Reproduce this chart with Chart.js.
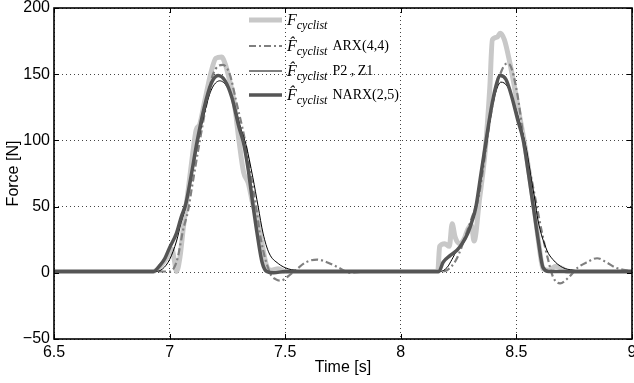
<!DOCTYPE html>
<html>
<head>
<meta charset="utf-8">
<script src="https://cdn.jsdelivr.net/npm/chart.js@4"></script>
<style>
  body { margin: 0; background: #fff; }
</style>
</head>
<body>
<canvas id="forceChart" width="634" height="383"></canvas>
<script>
// axis ticks
const xTicks = [6.5, 7, 7.5, 8, 8.5, 9];
const xTickLabels = ['6.5', '7', '7.5', '8', '8.5', '9'];
const yTicks = [-50, 0, 50, 100, 150, 200];
const yTickLabels = ['\u221250', '0', '50', '100', '150', '200'];

// measured cyclist force
const tMeasured = [6.5, 6.93, 6.96, 6.99, 7.01, 7.02, 7.03, 7.045, 7.06, 7.08, 7.10, 7.115, 7.13, 7.15, 7.18, 7.20, 7.225, 7.24, 7.26, 7.28,
  7.30, 7.32, 7.34, 7.36, 7.38, 7.40, 7.42, 7.44, 7.47, 7.5, 8.16, 8.168, 8.19, 8.21, 8.222, 8.235, 8.257, 8.275, 8.29, 8.305,
  8.317, 8.34, 8.365, 8.385, 8.396, 8.417, 8.43, 8.448, 8.47, 8.49, 8.51, 8.535, 8.56, 8.58, 8.60, 8.615, 8.64, 8.67, 8.70, 8.72, 9.0];
const fMeasured = [1, 1, 5, 12, 18, 10, 1, 12, 35, 62, 90, 108, 112, 128, 152, 162, 163, 158, 145, 128,
  100, 76, 68, 52, 40, 22, 5, 2, 3, 1, 1, 20, 22, 20, 37, 27, 22, 26, 33, 36,
  24, 55, 92, 140, 176, 178, 181, 176, 160, 142, 122, 98, 70, 45, 18, 3, 2, 5, 3, 1, 1];

// ARX(4,4) estimate
const tArx = [6.5, 7.0, 7.02, 7.036, 7.045, 7.058, 7.08, 7.097, 7.131, 7.16, 7.188, 7.231, 7.26, 7.29, 7.326, 7.35, 7.374, 7.395, 7.434, 7.46,
  7.48, 7.51, 7.545, 7.59, 7.638, 7.68, 7.73, 7.78, 7.85, 8.17, 8.20, 8.22, 8.24, 8.26, 8.278, 8.308, 8.334, 8.353, 8.373, 8.40,
  8.43, 8.459, 8.472, 8.503, 8.537, 8.572, 8.611, 8.637, 8.658, 8.689, 8.723, 8.766, 8.805, 8.849, 8.889, 8.928, 9.0];
const fArx = [1, 1, 4, 12, 20, 32, 47, 65, 100, 128, 150, 157, 150, 128, 100, 75, 50, 25, 0, -5,
  -6, -3, 2, 8, 10, 8, 4, 0, 1, 1, 2, 5, 10, 18, 27, 42, 55, 75, 100, 130,
  150, 158, 157, 136, 95, 65, 30, 10, -3, -8, -4, 4, 8, 11, 8, 4, 1];

// P2, Z1 estimate
const tP2Z1 = [6.5, 6.94, 6.97, 7.0, 7.03, 7.05, 7.07, 7.09, 7.12, 7.15, 7.18, 7.217, 7.25, 7.28, 7.31, 7.33, 7.36, 7.383, 7.404, 7.43,
  7.47, 7.513, 7.57, 7.65, 8.17, 8.2, 8.221, 8.243, 8.265, 8.29, 8.31, 8.325, 8.347, 8.369, 8.39, 8.41, 8.433, 8.46, 8.49, 8.52,
  8.545, 8.565, 8.58, 8.593, 8.632, 8.658, 8.70, 8.745, 8.8, 9.0];
const fP2Z1 = [1, 1, 3, 10, 24, 38, 50, 68, 96, 120, 138, 145, 140, 127, 108, 97, 72, 50, 30, 15,
  7, 3, 1.5, 1, 1, 4, 10, 17, 21, 29, 39, 48, 72, 96, 120, 136, 144, 141, 128, 110,
  92, 70, 55, 40, 17, 10, 4, 2, 1, 1];

// NARX(2,5) estimate
const tNarx = [6.5, 6.93, 6.96, 6.98, 7.0, 7.03, 7.05, 7.07, 7.09, 7.12, 7.15, 7.18, 7.21, 7.24, 7.27, 7.30, 7.32, 7.34, 7.36, 7.38,
  7.40, 7.42, 7.45, 7.5, 8.165, 8.183, 8.213, 8.243, 8.265, 8.29, 8.31, 8.325, 8.347, 8.369, 8.39, 8.41, 8.43, 8.455, 8.48, 8.505,
  8.53, 8.552, 8.573, 8.594, 8.615, 8.64, 9.0];
const fNarx = [1, 1, 6, 11, 19, 30, 42, 52, 70, 100, 125, 143, 149, 145, 132, 110, 98, 78, 52, 28,
  8, 1, 0, 1, 1, 8, 13, 17, 22, 30, 40, 50, 75, 100, 123, 140, 149, 146, 133, 116,
  100, 75, 50, 25, 4, 1, 1];

const legendSuffix = ['', 'ARX(4,4)', 'P2 , Z1', 'NARX(2,5)'];

function toPoints(ts, fs) {
  return ts.map((t, i) => ({ x: t, y: fs[i] }));
}

Chart.defaults.font.family = '"Liberation Sans", Arial, sans-serif';
Chart.defaults.color = '#000';

// axes box with inward ticks, like matlab
const boxPlugin = {
  id: 'box',
  afterDraw(chart) {
    const c = chart.ctx;
    const a = chart.chartArea;
    const sx = chart.scales.x, sy = chart.scales.y;
    c.save();
    c.strokeStyle = '#000';
    c.lineWidth = 1;
    c.beginPath();
    xTicks.forEach(v => {
      const px = Math.round(sx.getPixelForValue(v)) + 0.5;
      c.moveTo(px, a.bottom); c.lineTo(px, a.bottom - 5);
      c.moveTo(px, a.top); c.lineTo(px, a.top + 5);
    });
    yTicks.forEach(v => {
      const py = Math.round(sy.getPixelForValue(v)) + 0.5;
      c.moveTo(a.left, py); c.lineTo(a.left + 5, py);
      c.moveTo(a.right, py); c.lineTo(a.right - 5, py);
    });
    c.stroke();
    c.lineWidth = 1.6;
    c.strokeRect(a.left, a.top, a.right - a.left, a.bottom - a.top);
    c.restore();
  }
};

// legend drawn by hand for the hat + subscript labels
const legendRowY = [20, 46, 71, 95];
const keyPlugin = {
  id: 'seriesKey',
  afterDatasetsDraw(chart) {
    const c = chart.ctx;
    c.save();
    chart.data.datasets.forEach((ds, i) => {
      const y = legendRowY[i];
      c.beginPath();
      c.strokeStyle = ds.borderColor;
      c.lineWidth = ds.borderWidth;
      c.setLineDash(ds.borderDash || []);
      c.moveTo(249, y);
      c.lineTo(282, y);
      c.stroke();
      c.setLineDash([]);

      c.fillStyle = '#000';
      c.textBaseline = 'alphabetic';
      let x = 287;
      c.font = 'italic 16px "Liberation Serif"';
      const f = i === 0 ? 'F' : 'F\u0302';
      c.fillText(f, x, y + 5);
      x += c.measureText('F').width;
      c.font = 'italic 12px "Liberation Serif"';
      c.fillText('cyclist', x, y + 9);
      x += c.measureText('cyclist').width + 5;
      if (legendSuffix[i]) {
        c.font = '14px "Liberation Serif"';
        c.fillText(legendSuffix[i], x, y + 4);
      }
    });
    c.restore();
  }
};

const ctx = document.getElementById('forceChart').getContext('2d');
new Chart(ctx, {
  type: 'line',
  data: {
    datasets: [
      { label: 'F cyclist', data: toPoints(tMeasured, fMeasured), borderColor: '#c8c8c8', borderWidth: 5, order: 4 },
      { label: 'ARX(4,4)', data: toPoints(tArx, fArx), borderColor: '#7f7f7f', borderWidth: 2.2, borderDash: [7, 3, 2, 3], order: 3 },
      { label: 'P2 , Z1', data: toPoints(tP2Z1, fP2Z1), borderColor: '#000', borderWidth: 1, order: 2 },
      { label: 'NARX(2,5)', data: toPoints(tNarx, fNarx), borderColor: '#555', borderWidth: 3.5, order: 1 }
    ]
  },
  options: {
    responsive: false,
    animation: false,
    layout: { padding: { top: 8, right: 2, left: 0, bottom: 0 } },
    elements: {
      point: { radius: 0 },
      line: { cubicInterpolationMode: 'monotone', fill: false, borderJoinStyle: 'round' }
    },
    plugins: { legend: { display: false }, tooltip: { enabled: false } },
    scales: {
      x: {
        type: 'linear', min: 6.5, max: 9,
        afterBuildTicks: s => { s.ticks = xTicks.map(v => ({ value: v })); },
        afterFit: s => { s.height = 44; s.paddingLeft = 0; s.paddingRight = 0; },
        grid: { color: '#444', lineWidth: 1, drawTicks: false },
        border: { display: false, dash: [1, 3] },
        ticks: {
          padding: 4, maxRotation: 0, autoSkip: false, font: { size: 16 },
          callback: (v, i) => xTickLabels[i]
        },
        title: { display: true, text: 'Time [s]', font: { size: 16 }, padding: { top: 4, bottom: 6 } }
      },
      y: {
        type: 'linear', min: -50, max: 200,
        afterBuildTicks: s => { s.ticks = yTicks.map(v => ({ value: v })); },
        afterFit: s => { s.width = 54; s.paddingTop = 0; s.paddingBottom = 0; },
        grid: { color: '#444', lineWidth: 1, drawTicks: false },
        border: { display: false, dash: [1, 3] },
        ticks: {
          padding: 4, font: { size: 16 },
          callback: (v, i) => yTickLabels[i]
        },
        title: { display: true, text: 'Force [N]', font: { size: 16 }, padding: { top: 4, bottom: 4 } }
      }
    }
  },
  plugins: [boxPlugin, keyPlugin]
});
</script>
</body>
</html>
